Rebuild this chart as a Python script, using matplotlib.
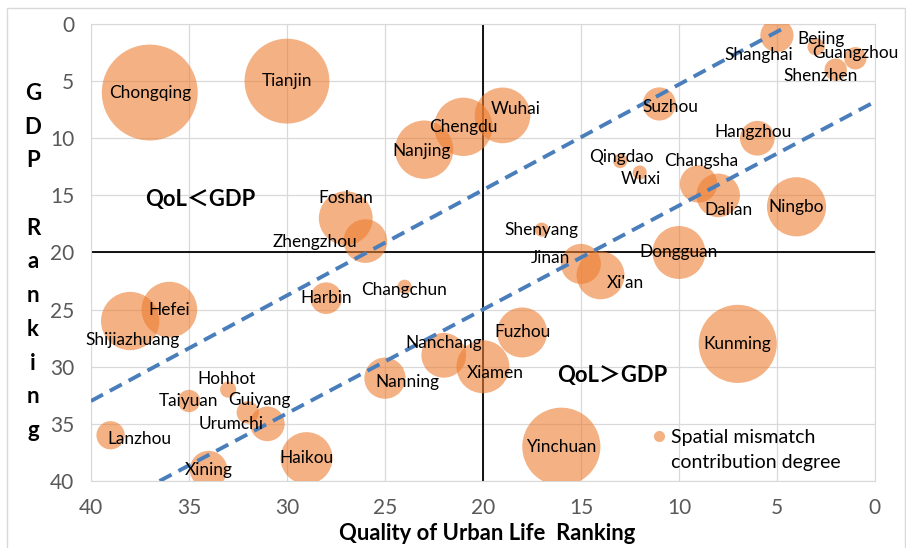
import numpy as np
import matplotlib.pyplot as plt
from matplotlib.lines import Line2D

plt.rcParams['font.family'] = ['Lato', 'Noto Sans CJK SC', 'DejaVu Sans']

# city data: QoL ranking (x), GDP ranking (y), spatial mismatch contribution degree (bubble size)
cities = ['Shanghai', 'Bejing', 'Guangzhou', 'Shenzhen', 'Tianjin', 'Chongqing', 'Suzhou',
          'Wuhai', 'Chengdu', 'Hangzhou', 'Nanjing', 'Qingdao', 'Wuxi', 'Changsha', 'Dalian',
          'Ningbo', 'Foshan', 'Shenyang', 'Zhengzhou', 'Dongguan', 'Jinan', "Xi'an",
          'Changchun', 'Harbin', 'Hefei', 'Shijiazhuang', 'Fuzhou', 'Kunming', 'Nanchang',
          'Xiamen', 'Nanning', 'Hohhot', 'Taiyuan', 'Guiyang', 'Urumchi', 'Lanzhou',
          'Yinchuan', 'Haikou', 'Xining']
qol_rank = [5, 3, 1, 2, 30, 37, 11, 19, 21, 6, 23, 13, 12, 9, 8, 4, 27, 17, 26, 10, 15, 14,
            24, 28, 36, 38, 18, 7, 22, 20, 25, 33, 35, 32, 31, 39, 16, 29, 34]
gdp_rank = list(range(1, 40))
degree = [1.1, 0.3, 0.5, 0.5, 7.2, 9.2, 1.1, 3.1, 3.4, 1.2, 3.4, 0.2, 0.2, 1.4, 1.9,
          3.5, 2.9, 0.2, 1.9, 2.8, 1.6, 2.3, 0.2, 1.0, 3.1, 3.4, 2.5, 6.1, 2.0,
          2.8, 1.7, 0.26, 0.5, 0.5, 1.2, 0.8, 6.1, 2.7, 1.4]

# label offsets (pixels) relative to bubble centre
label_off = {'Wuhai': (13, 6), 'Suzhou': (11, -3), 'Shanghai': (-18, -20), 'Bejing': (5, 8),
             'Guangzhou': (0, 5), 'Shenzhen': (-15, -6), 'Hangzhou': (-4, 6), 'Qingdao': (1, 4),
             'Wuxi': (1, -6), 'Changsha': (3, 23), 'Dalian': (10, -15), 'Jinan': (-30, 6),
             "Xi'an": (25, -8), 'Xiamen': (12, -6), 'Nanchang': (0, 12), 'Shijiazhuang': (2, -19),
             'Changchun': (0, -3), 'Nanning': (22, -4), 'Hohhot': (-2, 11), 'Guiyang': (12, 12),
             'Urumchi': (-36, 0), 'Lanzhou': (29, -4), 'Foshan': (0, 20), 'Zhengzhou': (-50, -1),
             'Nanjing': (-3, -1)}

# dashed boundary lines
upper_x = [40, 4.7]
upper_y = [33.0, 0.4]
lower_x = [36.5, 0]
lower_y = [40.0, 6.8]

fig = plt.figure(figsize=(9.06, 5.48), dpi=100)
ax = fig.add_axes([0.1004, 0.1223, 0.8653, 0.8339])

# bubble diameter in px = sqrt(degree*1000)
sizes = np.array(degree) * 1000 * 0.72 ** 2
ax.scatter(qol_rank, gdp_rank, s=sizes, color='#ED7D31', alpha=0.6, linewidths=0, zorder=3)

for c, x, y in zip(cities, qol_rank, gdp_rank):
    dx, dy = label_off.get(c, (0, 0))
    ax.annotate(c, (x, y), xytext=(dx, dy), textcoords='offset pixels',
                ha='center', va='center', fontsize=12.4, color='black', zorder=5)

ax.plot(upper_x, upper_y, '--', color='#4a7ebb', lw=2.8, dashes=(3.5, 2), zorder=4)
ax.plot(lower_x, lower_y, '--', color='#4a7ebb', lw=2.8, dashes=(3.5, 2), zorder=4)

ax.axvline(20, color='black', lw=1.3, zorder=2)
ax.axhline(20, color='black', lw=1.3, zorder=2)

ax.set_xlim(40, 0)
ax.set_ylim(40, 0)
ax.set_xticks(range(0, 41, 5))
ax.set_yticks(range(0, 41, 5))
ax.grid(color='#d9d9d9', lw=0.9, zorder=0)
ax.set_axisbelow(True)
for s in ax.spines.values():
    s.set_color('#d9d9d9')
ax.tick_params(length=0, labelsize=15, colors='#595959', pad=12)

ax.text(34.4, 15.4, 'QoL＜GDP', fontsize=15.8, fontweight='bold', ha='center', va='center')
ax.text(13.4, 30.8, 'QoL＞GDP', fontsize=15.8, fontweight='bold', ha='center', va='center')

# legend
h1 = Line2D([], [], marker='o', ls='', color='#ED7D31', alpha=0.6, markersize=8, markeredgewidth=0)
h2 = Line2D([], [], ls='', marker='')
ax.legend([h1, h2], ['Spatial mismatch', 'contribution degree'], loc='upper left',
          bbox_to_anchor=(0.70, 0.135), frameon=False, fontsize=14, handletextpad=0.1,
          handlelength=1.0, labelspacing=0.42, borderpad=0)

# axis labels
fig.text(0.538, 0.027, 'Quality of Urban Life  Ranking', ha='center', va='center',
         fontsize=15.8, fontweight='bold')
letters = ['G', 'D', 'P', '', 'R', 'a', 'n', 'k', 'i', 'n', 'g']
for i, ch in enumerate(letters):
    fig.text(33 / 906, 1 - (100 + 33.7 * i) / 548, ch, ha='center', va='baseline',
             fontsize=16, fontweight='bold')

# chart border
fig.add_artist(Line2D([7 / 906, 7 / 906, 905 / 906, 905 / 906], [0, 1 - 8 / 548, 1 - 8 / 548, 0],
                      color='#d9d9d9', lw=1, transform=fig.transFigure))

fig.savefig('out.png', dpi=100)
